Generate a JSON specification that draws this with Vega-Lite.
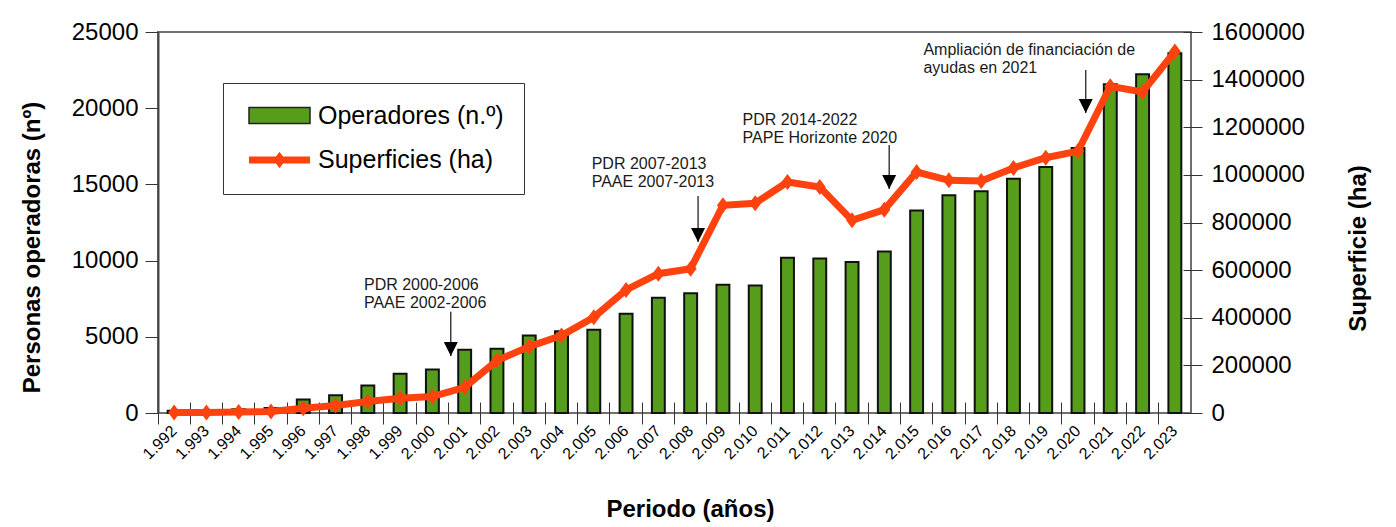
{
  "$schema": "https://vega.github.io/schema/vega-lite/v6.json",
  "width": 1033,
  "height": 381,
  "autosize": "none",
  "padding": {"left": 158, "top": 32, "right": 205, "bottom": 114},
  "background": "white",
  "config": {
    "font": "Liberation Sans",
    "view": {"stroke": "#6f6f6f", "strokeWidth": 2},
    "axis": {"labelFont": "Liberation Sans", "titleFont": "Liberation Sans", "labelColor": "#000", "titleColor": "#000", "domainColor": "#444", "tickColor": "#333", "grid": false}
  },
  "datasets": {
    "main": [
      {"year": "1.992", "operadores": 150, "superficie": 2000},
      {"year": "1.993", "operadores": 200, "superficie": 2500},
      {"year": "1.994", "operadores": 250, "superficie": 4000},
      {"year": "1.995", "operadores": 330, "superficie": 6000},
      {"year": "1.996", "operadores": 880, "superficie": 20000},
      {"year": "1.997", "operadores": 1160, "superficie": 31500},
      {"year": "1.998", "operadores": 1805, "superficie": 48000},
      {"year": "1.999", "operadores": 2573, "superficie": 62000},
      {"year": "2.000", "operadores": 2856, "superficie": 69000},
      {"year": "2.001", "operadores": 4149, "superficie": 108000},
      {"year": "2.002", "operadores": 4215, "superficie": 220000},
      {"year": "2.003", "operadores": 5088, "superficie": 279000},
      {"year": "2.004", "operadores": 5370, "superficie": 325000},
      {"year": "2.005", "operadores": 5462, "superficie": 402000},
      {"year": "2.006", "operadores": 6513, "superficie": 517000},
      {"year": "2.007", "operadores": 7563, "superficie": 585000},
      {"year": "2.008", "operadores": 7865, "superficie": 606000},
      {"year": "2.009", "operadores": 8416, "superficie": 872000},
      {"year": "2.010", "operadores": 8370, "superficie": 881000},
      {"year": "2.011", "operadores": 10189, "superficie": 970000},
      {"year": "2.012", "operadores": 10143, "superficie": 949000},
      {"year": "2.013", "operadores": 9900, "superficie": 809000},
      {"year": "2.014", "operadores": 10603, "superficie": 854000},
      {"year": "2.015", "operadores": 13295, "superficie": 1012000},
      {"year": "2.016", "operadores": 14280, "superficie": 977000},
      {"year": "2.017", "operadores": 14543, "superficie": 974000},
      {"year": "2.018", "operadores": 15377, "superficie": 1029000},
      {"year": "2.019", "operadores": 16140, "superficie": 1072000},
      {"year": "2.020", "operadores": 17388, "superficie": 1100000},
      {"year": "2.021", "operadores": 21570, "superficie": 1372000},
      {"year": "2.022", "operadores": 22226, "superficie": 1348000},
      {"year": "2.023", "operadores": 23600, "superficie": 1518000}
    ]
  },
  "layer": [
    {
      "layer": [
        {
          "data": {"name": "main"},
          "mark": {"type": "bar", "width": {"band": 0.4}, "stroke": "#111", "strokeWidth": 2},
          "encoding": {
            "x": {
              "field": "year", "type": "ordinal", "sort": null,
              "scale": {"domain": ["1.992","1.993","1.994","1.995","1.996","1.997","1.998","1.999","2.000","2.001","2.002","2.003","2.004","2.005","2.006","2.007","2.008","2.009","2.010","2.011","2.012","2.013","2.014","2.015","2.016","2.017","2.018","2.019","2.020","2.021","2.022","2.023"], "paddingInner": 0, "paddingOuter": 0},
              "axis": {
                "orient": "bottom", "bandPosition": 0, "offset": -11, "tickSize": 22, "domain": false,
                "labelAngle": -45, "labelAlign": "right", "labelBaseline": "middle", "labelFontSize": 16, "labelPadding": 4, "labelOverlap": false,
                "title": "Periodo (años)", "titleFontSize": 24, "titleFontWeight": "bold", "titleX": 532, "titleY": 107, "titleAlign": "center", "titleBaseline": "middle"
              }
            },
            "y": {
              "field": "operadores", "type": "quantitative",
              "scale": {"domain": [0, 25000], "nice": false},
              "axis": {
                "orient": "left", "values": [0, 5000, 10000, 15000, 20000, 25000], "format": "d", "tickSize": 13, "labelPadding": 7, "labelFontSize": 24,
                "domainWidth": 2, "title": "Personas operadoras (nº)", "titleFontSize": 24, "titleFontWeight": "bold",
                "titleX": -126, "titleY": 215, "titleAngle": -90, "titleAlign": "center", "titleBaseline": "middle"
              }
            },
            "fill": {
              "datum": "Operadores (n.º)", "type": "nominal",
              "scale": {"range": ["#579d1c"]},
              "legend": {
                "orient": "none", "legendX": 65, "legendY": 51,
                "title": " ", "titleOrient": "bottom", "titleFontSize": 40, "titlePadding": 5,
                "symbolType": "M-3.8125,-1H3.8125V1H-3.8125Z", "symbolSize": 256, "symbolStrokeColor": "#222", "symbolStrokeWidth": 1.5,
                "symbolOffset": 24, "labelOffset": 26, "labelFontSize": 25, "labelFont": "Liberation Sans", "labelColor": "#000", "labelLimit": 400,
                "padding": 20, "strokeColor": "#333"
              }
            }
          }
        },
        {
          "data": {"values": [{"year": "1.998", "v": 8091, "label": ["PDR 2000-2006", "PAAE 2002-2006"]}]},
          "mark": {"type": "text", "align": "left", "baseline": "alphabetic", "fontSize": 16, "lineHeight": 18, "color": "#1a1a1a"},
          "encoding": {"x": {"field": "year", "type": "ordinal", "bandPosition": 0.38}, "y": {"field": "v", "type": "quantitative"}, "text": {"field": "label"}}
        },
        {
          "data": {"values": [{"year": "2.005", "v": 16031, "label": ["PDR 2007-2013", "PAAE 2007-2013"]}]},
          "mark": {"type": "text", "align": "left", "baseline": "alphabetic", "fontSize": 16, "lineHeight": 18, "color": "#1a1a1a"},
          "encoding": {"x": {"field": "year", "type": "ordinal", "bandPosition": 0.435}, "y": {"field": "v", "type": "quantitative"}, "text": {"field": "label"}}
        },
        {
          "data": {"values": [{"year": "2.010", "v": 18918, "label": ["PDR 2014-2022", "PAPE Horizonte 2020"]}]},
          "mark": {"type": "text", "align": "left", "baseline": "alphabetic", "fontSize": 16, "lineHeight": 18, "color": "#1a1a1a"},
          "encoding": {"x": {"field": "year", "type": "ordinal", "bandPosition": 0.11}, "y": {"field": "v", "type": "quantitative"}, "text": {"field": "label"}}
        },
        {
          "data": {"values": [{"year": "2.015", "v": 23492, "label": ["Ampliación de financiación de", "ayudas en 2021"]}]},
          "mark": {"type": "text", "align": "left", "baseline": "alphabetic", "fontSize": 16, "lineHeight": 18, "color": "#1a1a1a"},
          "encoding": {"x": {"field": "year", "type": "ordinal", "bandPosition": 0.71}, "y": {"field": "v", "type": "quantitative"}, "text": {"field": "label"}}
        },
        {
          "data": {"values": [{"year": "2.001", "top": 6647, "tip": 3740}]},
          "layer": [
            {"mark": {"type": "rule", "color": "#111", "strokeWidth": 1.2}, "encoding": {"x": {"field": "year", "type": "ordinal", "bandPosition": 0.07}, "y": {"field": "top", "type": "quantitative"}, "y2": {"field": "tip"}}},
            {"mark": {"type": "point", "shape": "M0,0L-1,-2L1,-2Z", "size": 196, "filled": true, "color": "#000", "opacity": 1, "strokeWidth": 0}, "encoding": {"x": {"field": "year", "type": "ordinal", "bandPosition": 0.07}, "y": {"field": "tip", "type": "quantitative"}}}
          ]
        },
        {
          "data": {"values": [{"year": "2.008", "top": 14240, "tip": 11221}]},
          "layer": [
            {"mark": {"type": "rule", "color": "#111", "strokeWidth": 1.2}, "encoding": {"x": {"field": "year", "type": "ordinal", "bandPosition": 0.73}, "y": {"field": "top", "type": "quantitative"}, "y2": {"field": "tip"}}},
            {"mark": {"type": "point", "shape": "M0,0L-1,-2L1,-2Z", "size": 196, "filled": true, "color": "#000", "opacity": 1, "strokeWidth": 0}, "encoding": {"x": {"field": "year", "type": "ordinal", "bandPosition": 0.73}, "y": {"field": "tip", "type": "quantitative"}}}
          ]
        },
        {
          "data": {"values": [{"year": "2.014", "top": 17586, "tip": 14699}]},
          "layer": [
            {"mark": {"type": "rule", "color": "#111", "strokeWidth": 1.2}, "encoding": {"x": {"field": "year", "type": "ordinal", "bandPosition": 0.65}, "y": {"field": "top", "type": "quantitative"}, "y2": {"field": "tip"}}},
            {"mark": {"type": "point", "shape": "M0,0L-1,-2L1,-2Z", "size": 196, "filled": true, "color": "#000", "opacity": 1, "strokeWidth": 0}, "encoding": {"x": {"field": "year", "type": "ordinal", "bandPosition": 0.65}, "y": {"field": "tip", "type": "quantitative"}}}
          ]
        },
        {
          "data": {"values": [{"year": "2.020", "top": 22508, "tip": 19686}]},
          "layer": [
            {"mark": {"type": "rule", "color": "#111", "strokeWidth": 1.2}, "encoding": {"x": {"field": "year", "type": "ordinal", "bandPosition": 0.74}, "y": {"field": "top", "type": "quantitative"}, "y2": {"field": "tip"}}},
            {"mark": {"type": "point", "shape": "M0,0L-1,-2L1,-2Z", "size": 196, "filled": true, "color": "#000", "opacity": 1, "strokeWidth": 0}, "encoding": {"x": {"field": "year", "type": "ordinal", "bandPosition": 0.74}, "y": {"field": "tip", "type": "quantitative"}}}
          ]
        }
      ]
    },
    {
      "data": {"name": "main"},
      "layer": [
        {
          "mark": {"type": "line", "strokeWidth": 7},
          "encoding": {
            "x": {"field": "year", "type": "ordinal", "sort": null},
            "y": {
              "field": "superficie", "type": "quantitative",
              "scale": {"domain": [0, 1600000], "nice": false},
              "axis": {
                "orient": "right", "values": [0, 200000, 400000, 600000, 800000, 1000000, 1200000, 1400000, 1600000], "format": "d",
                "offset": -8, "tickSize": 19, "labelPadding": 9, "labelFontSize": 24, "domain": false,
                "title": "Superficie (ha)", "titleFontSize": 24, "titleFontWeight": "bold",
                "titleX": 175, "titleY": 216, "titleAngle": -90, "titleAlign": "center", "titleBaseline": "middle"
              }
            },
            "stroke": {
              "datum": "Superficies (ha)", "type": "nominal",
              "scale": {"range": ["#ff420e"]},
              "legend": {
                "orient": "none", "legendX": 85, "legendY": 115.5, "title": null,
                "symbolType": "M-3.8125,0H3.8125M0,-0.3L0.22,0L0,0.3L-0.22,0Z", "symbolSize": 256, "symbolStrokeWidth": 7,
                "symbolOffset": 24, "labelOffset": 26, "labelFontSize": 25, "labelFont": "Liberation Sans", "labelColor": "#000", "labelLimit": 400,
                "padding": 0
              }
            }
          }
        },
        {
          "mark": {"type": "point", "shape": "M0,-1L0.75,0L0,1L-0.75,0Z", "size": 256, "filled": true, "color": "#ff420e", "opacity": 1, "strokeWidth": 0},
          "encoding": {
            "x": {"field": "year", "type": "ordinal", "sort": null},
            "y": {"field": "superficie", "type": "quantitative"}
          }
        }
      ]
    }
  ],
  "resolve": {"scale": {"y": "independent"}}
}
